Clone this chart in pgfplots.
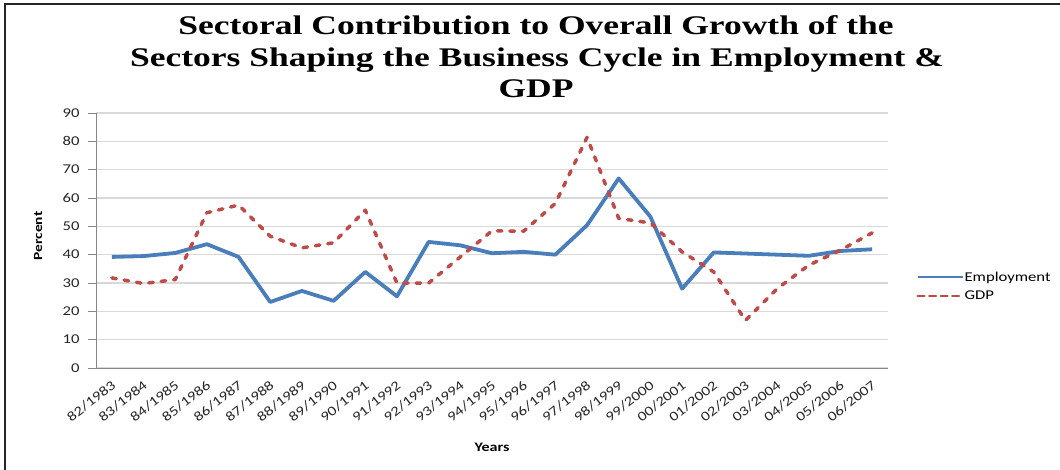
\documentclass[border=0pt]{standalone}
\usepackage{fontspec}
\setmainfont{Carlito}[FakeStretch=1.24]
\newfontfamily\titlefont{Liberation Serif}[FakeStretch=1.32]
\usepackage{pgfplots}
\pgfplotsset{compat=1.18}
\definecolor{empblue}{HTML}{4A7EBB}
\definecolor{gdpred}{HTML}{BE4B48}
\definecolor{gridgray}{HTML}{D9D9D9}
\definecolor{axisgray}{HTML}{868686}
\begin{document}
\begin{tikzpicture}
\begin{axis}[
  scale only axis,
  width=792bp, height=255bp,
  at={(0,0)}, anchor=south west,
  xmin=-0.5, xmax=24.5,
  ymin=0, ymax=90,
  ytick={0,10,...,90},
  xtick={0,...,24},
  xticklabels={82/1983,83/1984,84/1985,85/1986,86/1987,87/1988,88/1989,89/1990,90/1991,91/1992,92/1993,93/1994,94/1995,95/1996,96/1997,97/1998,98/1999,99/2000,00/2001,01/2002,02/2003,03/2004,04/2005,05/2006,06/2007},
  minor xtick={-0.5,0.5,...,24.5},
  axis x line*=bottom, axis y line*=left,
  axis line style={axisgray, line width=0.9bp, -},
  tick align=outside,
  major tick length=8bp,
  minor tick length=5bp,
  xtick style={draw=none},
  minor x tick style={axisgray, line width=0.9bp},
  ytick style={axisgray, line width=0.9bp},
  ymajorgrids,
  grid style={gridgray, line width=1.2bp},
  /pgf/number format/assume math mode=true,
  tick label style={font=\fontsize{13.5}{15}\selectfont, text=black!85},
  xticklabel style={rotate=38, anchor=north east, inner sep=0pt, xshift=-3bp, yshift=-2bp},
  yticklabel style={xshift=-5bp},
  xlabel={\textbf{Years}},
  ylabel={\textbf{Percent}},
  xlabel style={at={(axis description cs:0.5,-0.31)}, anchor=center, font=\fontsize{13}{15}\selectfont},
  ylabel style={at={(axis description cs:-0.0732,0.518)}, anchor=center, font=\fontsize{12.5}{14}\selectfont},
  legend style={draw=none, fill=none, at={(axis description cs:1.032,0.32)}, anchor=west,
    font=\fontsize{13.5}{15}\selectfont, row sep=6bp, nodes={inner sep=1bp}},
  legend cell align=left,
]
\addplot[empblue, line width=3.8bp, line join=round,
  legend image code/.code={\draw[empblue, line width=2bp] (0bp,0bp) -- (45bp,0bp);}]
  coordinates {(0,39.2) (1,39.5) (2,40.6) (3,43.7) (4,39.2) (5,23.3) (6,27.2) (7,23.7) (8,33.9) (9,25.3) (10,44.5) (11,43.3) (12,40.5) (13,41.0) (14,40.0) (15,50.4) (16,66.9) (17,53.4) (18,28.0) (19,40.8) (20,40.4) (21,40.0) (22,39.6) (23,41.3) (24,41.9)};
\addlegendentry{Employment}
\addplot[gdpred, line width=3.5bp, line cap=round, line join=round, dash pattern=on 4.5bp off 8bp,
  legend image code/.code={\draw[gdpred, line width=2bp, dash pattern=on 7bp off 4.5bp] (0bp,0bp) -- (45bp,0bp);}]
  coordinates {(0,31.8) (1,29.8) (2,31.2) (3,54.8) (4,57.5) (5,46.5) (6,42.4) (7,44.2) (8,55.7) (9,30.0) (10,30.0) (11,39.2) (12,48.4) (13,48.3) (14,58.1) (15,81.4) (16,52.8) (17,51.2) (18,41.0) (19,33.9) (20,16.8) (21,28.0) (22,36.3) (23,41.6) (24,47.7)};
\addlegendentry{GDP}
\end{axis}
\node[anchor=base, inner sep=0pt, font=\titlefont\bfseries\fontsize{27}{30}\selectfont] at (440bp,333bp) {Sectoral Contribution to Overall Growth of the};
\node[anchor=base, inner sep=0pt, font=\titlefont\bfseries\fontsize{27}{30}\selectfont] at (441bp,301bp) {Sectors Shaping the Business Cycle in Employment \&};
\node[anchor=base, inner sep=0pt, font=\titlefont\bfseries\fontsize{27}{30}\selectfont] at (440bp,270bp) {GDP};
\draw[black!85, line width=2bp] (-91bp,-102bp) -- (-91bp,364bp) -- (964bp,364bp);
\pgfresetboundingbox
\path[use as bounding box] (-96bp,-102bp) rectangle (964bp,368bp);
\end{tikzpicture}
\end{document}
